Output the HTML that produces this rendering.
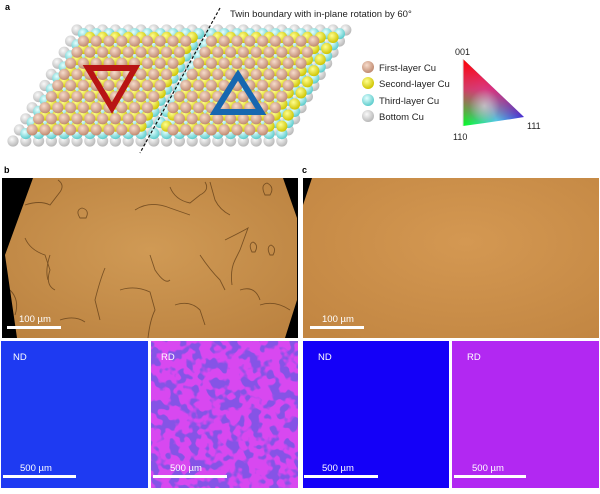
<!DOCTYPE html>
<html><head><meta charset="utf-8"><style>
html,body{margin:0;padding:0;background:#fff;}
body{width:600px;height:489px;overflow:hidden;font-family:"Liberation Sans",sans-serif;}
</style></head><body>
<svg id="s" width="600" height="489" viewBox="0 0 600 489" xmlns="http://www.w3.org/2000/svg" font-family="Liberation Sans, sans-serif">
<defs>
<radialGradient id="gg" cx="0.4" cy="0.35" r="0.65"><stop offset="0" stop-color="#fafafa"/><stop offset="1" stop-color="#b8b8b8"/></radialGradient>
<radialGradient id="gc" cx="0.4" cy="0.35" r="0.65"><stop offset="0" stop-color="#e6ffff"/><stop offset="1" stop-color="#5ccccc"/></radialGradient>
<radialGradient id="gy" cx="0.4" cy="0.35" r="0.65"><stop offset="0" stop-color="#ffff90"/><stop offset="1" stop-color="#cfc400"/></radialGradient>
<radialGradient id="gt" cx="0.4" cy="0.35" r="0.65"><stop offset="0" stop-color="#f7dccc"/><stop offset="1" stop-color="#c08a70"/></radialGradient>
<linearGradient id="tg1" x1="0" y1="1" x2="1" y2="0.6"><stop offset="0" stop-color="#00ff20"/><stop offset="0.5" stop-color="#40e0ff"/><stop offset="1" stop-color="#1010ff"/></linearGradient>
<linearGradient id="tg2" x1="0" y1="0" x2="0" y2="1"><stop offset="0" stop-color="#ff0000" stop-opacity="1"/><stop offset="0.45" stop-color="#ff1060" stop-opacity="0.8"/><stop offset="1" stop-color="#ff0000" stop-opacity="0"/></linearGradient>
<radialGradient id="tw" cx="0.35" cy="0.7" r="0.25"><stop offset="0" stop-color="#fff" stop-opacity="0.45"/><stop offset="1" stop-color="#fff" stop-opacity="0"/></radialGradient>
<radialGradient id="pb" cx="0.5" cy="0.45" r="0.7"><stop offset="0" stop-color="#d09a55"/><stop offset="1" stop-color="#bb8240"/></radialGradient>
<radialGradient id="pc" cx="0.55" cy="0.4" r="0.75"><stop offset="0" stop-color="#d49852"/><stop offset="1" stop-color="#c28642"/></radialGradient>
<filter id="mot" x="0" y="0" width="1" height="1" color-interpolation-filters="sRGB">
<feTurbulence type="fractalNoise" baseFrequency="0.1" numOctaves="2" seed="3"/>
<feColorMatrix type="matrix" values="0 0 0 0 0.52  0 0 0 0 0.33  0 0 0 0 0.9  10 0 0 0 -4.9"/>
</filter>
</defs>
<g id="atoms"></g>
<line x1="220" y1="8" x2="140" y2="153" stroke="#111" stroke-width="1.2" stroke-dasharray="3,2"/>
<polygon points="88,68 135,68 112,108" fill="none" stroke="#b81414" stroke-width="6" stroke-linejoin="miter"/>
<polygon points="238,75 215,112 261,112" fill="none" stroke="#1767b0" stroke-width="6"/>
<text x="5" y="10" font-size="9" font-weight="bold">a</text>
<text x="230" y="17" font-size="9.5" fill="#222">Twin boundary with in-plane rotation by 60°</text>
<circle cx="368" cy="67" r="6" fill="url(#gt)"/><circle cx="368" cy="83" r="6" fill="url(#gy)"/>
<circle cx="368" cy="100" r="6" fill="url(#gc)"/><circle cx="368" cy="116" r="6" fill="url(#gg)"/>
<g font-size="9.5" fill="#222"><text x="379" y="71">First-layer Cu</text><text x="379" y="87">Second-layer Cu</text><text x="379" y="104">Third-layer Cu</text><text x="379" y="120">Bottom Cu</text></g>
<path d="M463,59 L524,117 Q494,122 463,126 Z" fill="url(#tg1)"/>
<path d="M463,59 L524,117 Q494,122 463,126 Z" fill="url(#tg2)"/>
<path d="M463,59 L524,117 Q494,122 463,126 Z" fill="url(#tw)"/>
<line x1="463" y1="59" x2="463" y2="126" stroke="#ddd" stroke-width="1"/>
<g font-size="9" fill="#222"><text x="455" y="55">001</text><text x="453" y="140">110</text><text x="527" y="129">111</text></g>

<text x="4" y="173" font-size="9" font-weight="bold">b</text>
<text x="302" y="173" font-size="9" font-weight="bold">c</text>
<rect x="2" y="178" width="296" height="160" fill="url(#pb)"/>
<g fill="none" stroke="#5a3814" stroke-width="0.9" opacity="0.7">
<path d="M25,205 Q40,200 50,205 L60,192 Q65,185 58,180"/>
<path d="M135,210 Q150,200 170,208 L190,215"/>
<path d="M170,187 Q175,200 190,203 L200,195 Q210,190 205,182"/>
<path d="M80,218 q-5,-8 2,-10 q8,2 4,10z"/>
<path d="M25,238 Q30,250 45,255 L50,270 Q45,285 55,290"/>
<path d="M50,255 Q45,270 48,280"/>
<path d="M225,240 Q245,230 248,228 L240,250 L235,260 Q230,270 232,285"/>
<path d="M200,255 Q210,270 220,280 L225,290"/>
<path d="M150,255 L155,270 Q165,285 170,280"/>
<path d="M105,268 Q100,280 95,300 L100,320"/>
<path d="M120,290 Q135,285 150,292 L155,310 Q150,320 148,338"/>
<path d="M175,305 Q190,300 200,310 L205,325"/>
<path d="M210,182 L215,200 Q220,210 230,215"/>
<path d="M265,195 q-5,-10 2,-12 q8,4 3,12z"/>
<path d="M252,252 q-4,-8 1,-10 q6,3 2,10z"/>
<path d="M270,255 q-4,-8 1,-10 q6,3 2,10z"/>
<path d="M60,320 Q75,315 85,322"/>
<path d="M240,290 Q255,285 260,300"/>
<path d="M260,305 Q275,300 290,310"/>
<path d="M10,290 Q20,300 15,315"/>
</g>
<polygon points="2,178 33,178 5,255 17,338 2,338" fill="#000"/>
<polygon points="283,178 298,178 298,338 285,338 297,300 297,218" fill="#000"/>
<rect x="7" y="326" width="54" height="3" fill="#fff"/>
<text x="19" y="322" font-size="9.5" fill="#fff">100 µm</text>

<rect x="303" y="178" width="296" height="160" fill="url(#pc)"/>
<polygon points="303,178 312,178 303,205" fill="#000"/>
<rect x="310" y="326" width="54" height="3" fill="#fff"/>
<text x="322" y="322" font-size="9.5" fill="#fff">100 µm</text>

<rect x="1" y="341" width="147" height="147" fill="#1e3af2"/>
<rect x="151" y="341" width="147" height="147" fill="#d848f0"/>
<rect x="151" y="341" width="147" height="147" filter="url(#mot)"/>
<rect x="303" y="341" width="146" height="147" fill="#1400f8"/>
<rect x="452" y="341" width="147" height="147" fill="#b228f2"/>
<g font-size="9.5" fill="#fff">
<text x="13" y="360">ND</text><text x="161" y="360">RD</text><text x="318" y="360">ND</text><text x="467" y="360">RD</text>
<text x="20" y="471">500 µm</text><text x="170" y="471">500 µm</text><text x="322" y="471">500 µm</text><text x="472" y="471">500 µm</text>
</g>
<g fill="#fff"><rect x="3" y="475" width="73" height="3"/><rect x="153" y="475" width="74" height="3"/><rect x="304" y="475" width="74" height="3"/><rect x="454" y="475" width="72" height="3"/></g>
</svg>
<script>
(function(){
var g=document.getElementById('atoms'),ns='http://www.w3.org/2000/svg';
var a=12.8,dy=11.1,r=5.6;
function dist(x,y){var dx=-80,dyy=145,L=Math.sqrt(dx*dx+dyy*dyy);return Math.abs((x-220)*dyy-(y-8)*dx)/L;}
function layer(ox,oy,rows,n,fill,skip,i0,j0){
 for(var i=i0;i<rows;i++){for(var j=j0;j<n;j++){
  var x=ox-6.4*i+a*j,y=oy+dy*i;
  if(skip&&dist(x,y)<skip)continue;
  var c=document.createElementNS(ns,'circle');c.setAttribute('cx',x.toFixed(1));c.setAttribute('cy',y.toFixed(1));c.setAttribute('r',r);c.setAttribute('fill',fill);g.appendChild(c);}}
}
layer(77,30,11,22,'url(#gg)',0,0,0);
layer(83.4,33.7,10,21,'url(#gc)',0,0,0);
layer(89.8,37.4,9,20,'url(#gy)',5,0,0);
layer(77,30,10,20,'url(#gt)',7,1,1);
})();
</script>
</body></html>
